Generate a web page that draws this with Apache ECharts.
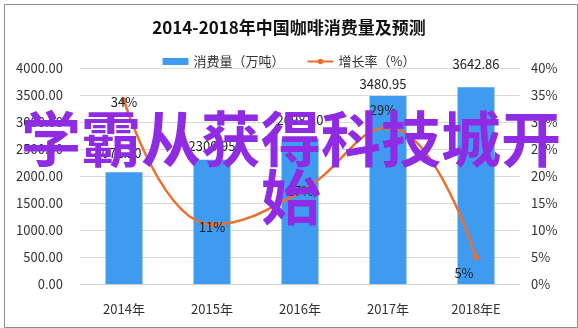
<!DOCTYPE html>
<html><head><meta charset="utf-8">
<script src="https://cdn.jsdelivr.net/npm/echarts@6/dist/echarts.min.js"></script>
<style>html,body{margin:0;padding:0;background:#fff}#c{width:578px;height:328px}</style>
</head><body><div id="c"></div>
<script>
var categories = ['2014年','2015年','2016年','2017年','2018年E'];
var consumption = [2071.10, 2300.95, 2698.10, 3480.95, 3642.86];
var growth = [34, 11, 17, 29, 5];
var leftTicks = [0, 500, 1000, 1500, 2000, 2500, 3000, 3500, 4000];
var rightTicks = [0, 5, 10, 15, 20, 25, 30, 35, 40];

var barLabelOffset = [[-6,-8],[0,-2],[0,-7],[-5,0],[0,-12]];
var lineLabelCfg = [
  {position:'inside', offset:[0,2]},
  {position:'inside', offset:[0,2]},
  {position:'inside', offset:[0,-1]},
  {position:'top', offset:[-5,-3]},
  {position:'bottom', offset:[-12,2]}
];
var FONT = '"Noto Sans CJK SC", "Noto Sans", sans-serif';
var chart = echarts.init(document.getElementById('c'));
chart.setOption({
  backgroundColor:'#fff',
  animation:false,
  title:{text:'2014-2018年中国咖啡消费量及预测', left:'center', top:14,
    textStyle:{fontFamily:FONT, fontSize:17, fontWeight:'bold', color:'#111'}},
  legend:{top:50, left:'center', itemGap:22, itemWidth:26, itemHeight:7,
    textStyle:{fontFamily:FONT, fontSize:13, color:'#333'},
    data:[{name:'消费量（万吨）', icon:'rect'}, {name:'增长率（%）'}]},
  grid:{left:80, right:58, top:68, bottom:44},
  xAxis:{type:'category', data:categories,
    axisLine:{lineStyle:{color:'#d0d0d0'}}, axisTick:{show:false},
    axisLabel:{fontFamily:FONT, fontSize:13, color:'#333', margin:19}},
  yAxis:[
    {type:'value', min:leftTicks[0], max:leftTicks[leftTicks.length-1], interval:500,
      axisLine:{show:false}, axisTick:{show:false},
      splitLine:{lineStyle:{color:'#d9d9d9'}},
      axisLabel:{fontFamily:FONT, fontSize:13, color:'#333', margin:17,
        formatter:function(v){return v.toFixed(2);}}},
    {type:'value', min:rightTicks[0], max:rightTicks[rightTicks.length-1], interval:5,
      axisLine:{show:false}, axisTick:{show:false}, splitLine:{show:false},
      axisLabel:{fontFamily:FONT, fontSize:13, color:'#333', margin:11,
        formatter:function(v){return v+'%';}}}
  ],
  series:[
    {name:'消费量（万吨）', type:'bar', barWidth:'42%',
      itemStyle:{color:'#3E9BEF'},
      data:consumption.map(function(v,i){
        return {value:v, label:{show:true, position:'top', distance:5, offset:barLabelOffset[i],
          fontFamily:FONT, fontSize:13, color:'#222', formatter:function(p){return p.value.toFixed(2);}}};
      })},
    {name:'增长率（%）', type:'line', yAxisIndex:1, smooth:0.45,
      symbol:'circle', symbolSize:6,
      itemStyle:{color:'#EE6F2D'}, lineStyle:{color:'#EE6F2D', width:2.5},
      data:growth.map(function(v,i){
        return {value:v, label:{show:true, position:lineLabelCfg[i].position, offset:lineLabelCfg[i].offset,
          fontFamily:FONT, fontSize:13, color:'#222', formatter:function(p){return p.value+'%';}}};
      })}
  ],
  graphic:[
    {type:'rect', left:2, top:2, shape:{width:573, height:323}, silent:true, z:-1,
      style:{fill:'none', stroke:'#8c8c8c', lineWidth:1}},
    {type:'text', x:291, y:110, z:100, silent:true,
      style:{text:'学霸从获得科技城开\n始', align:'center', verticalAlign:'top',
        font:'bold 60px "Noto Sans CJK SC", sans-serif', lineHeight:58, fill:'#8E2BE3'}}
  ]
});
</script></body></html>
